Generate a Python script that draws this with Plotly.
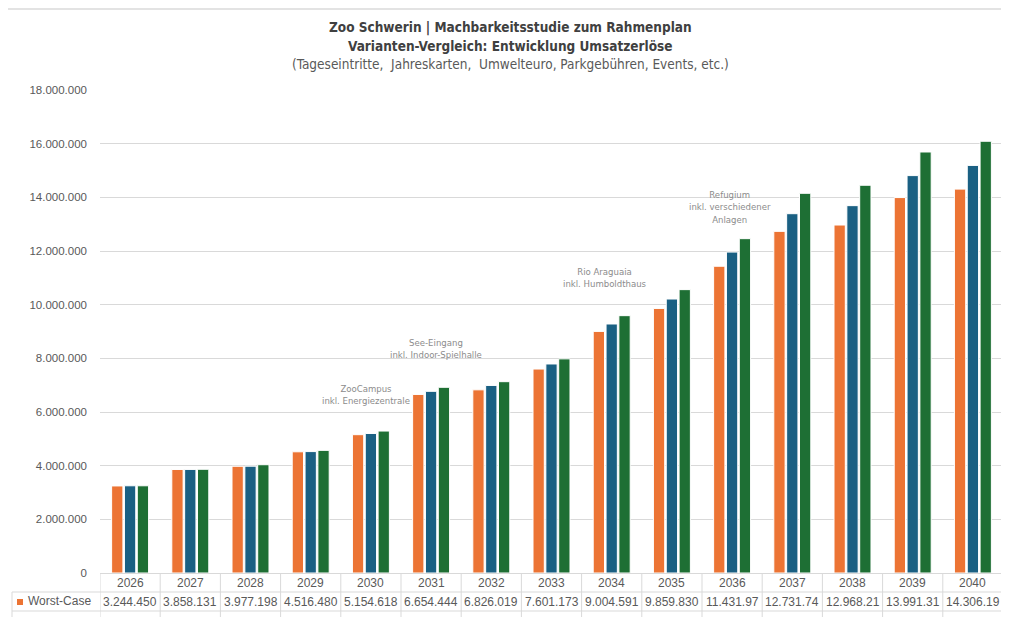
import plotly.graph_objects as go

# ── Data ─────────────────────────────────────────────────────────────────────

years = [str(y) for y in range(2026, 2041)]

worst_case = [3244450, 3858131, 3977198, 4516480, 5154618, 6654444, 6826019,
              7601173, 9004591, 9859830, 11431970, 12731740, 12968210,
              13991310, 14306190]
mid_case = [3250000, 3860000, 3980000, 4525000, 5200000, 6770000, 6990000,
            7790000, 9280000, 10210000, 11960000, 13390000, 13690000,
            14810000, 15190000]
best_case = [3250000, 3865000, 4035000, 4570000, 5290000, 6920000, 7130000,
             7980000, 9590000, 10560000, 12460000, 14150000, 14450000,
             15690000, 16090000]

milestones = {
    "2030": "ZooCampus<br>inkl. Energiezentrale",
    "2031": "See-Eingang<br>inkl. Indoor-Spielhalle",
    "2034": "Rio Araguaia<br>inkl. Humboldthaus",
    "2036": "Refugium<br>inkl. verschiedener<br>Anlagen",
}
milestone_y = {"2030": 6150000, "2031": 7850000, "2034": 10500000, "2036": 12900000}
milestone_dx = {"2030": -5, "2031": 5, "2034": -7, "2036": -2}

# ── Style ────────────────────────────────────────────────────────────────────

ORANGE = "#EC7434"
BLUE = "#1A6083"
GREEN = "#1E6F34"
GRID = "#D9D9D9"
NARROW = "DejaVu Sans Condensed, Liberation Sans Narrow, sans-serif"
SANS = "Liberation Sans, Arial, sans-serif"

# page body adds an 8px offset, so the figure is drawn 8px smaller
W, H = 1001, 609
ML, MR, MT, MB = 92, 6, 82, 44
PH = H - MT - MB


def de_num(v):
    return f"{v:,.0f}".replace(",", ".")


fig = go.Figure()
for name, vals, col in [("Worst-Case", worst_case, ORANGE),
                        ("Mid-Case", mid_case, BLUE),
                        ("Best-Case", best_case, GREEN)]:
    fig.add_trace(go.Bar(
        x=years, y=vals, name=name,
        marker=dict(color=col, line=dict(color="white", width=1)),
        hoverinfo="x+y+name",
    ))

fig.update_layout(
    width=W, height=H,
    paper_bgcolor="white", plot_bgcolor="white",
    margin=dict(l=ML, r=MR, t=MT, b=MB),
    barmode="group", bargap=0.36, bargroupgap=0.12,
    showlegend=False,
    separators=",.",
    font=dict(family=SANS, color="#595959", size=11),
)
fig.update_xaxes(type="category", showticklabels=False, showgrid=False, showline=True,
                 linecolor=GRID, linewidth=1, range=[-0.5, 14.5])
fig.update_yaxes(range=[0, 18000000], dtick=2000000, tickformat=",d",
                 gridcolor=GRID, gridwidth=1, zeroline=False,
                 ticklabelstandoff=12, tickfont=dict(size=11.5, color="#595959"))

# title
title_lines = [
    ("<b>Zoo Schwerin | Machbarkeitsstudie zum Rahmenplan</b>", 28, "#404040"),
    ("<b>Varianten-Vergleich: Entwicklung Umsatzerlöse</b>", 46, "#404040"),
    ("(Tageseintritte,  Jahreskarten,  Umwelteuro, Parkgebühren, Events, etc.)", 64, "#595959"),
]
for txt, ypx, col in title_lines:
    fig.add_annotation(text=txt, xref="paper", yref="paper",
                       x=(510 - 8 - ML) / (W - ML - MR),
                       y=1 + (MT - (ypx - 8)) / PH, showarrow=False,
                       xanchor="center", yanchor="middle",
                       font=dict(family=NARROW, size=13.5, color=col))

# top border line
fig.add_shape(type="line", xref="paper", yref="paper", x0=-0.11, x1=1.01,
              y0=1 + (MT - 1) / PH, y1=1 + (MT - 1) / PH,
              line=dict(color="#E3E3E3", width=2))

# milestone labels
for yr, txt in milestones.items():
    fig.add_annotation(text=txt, x=years.index(yr), y=milestone_y[yr], xref="x", yref="y",
                       showarrow=False, xanchor="center", yanchor="bottom",
                       xshift=milestone_dx[yr],
                       font=dict(family=NARROW, size=9.5, color="#8C8C8C"))

# data table below the plot
for i, yr in enumerate(years):
    fig.add_annotation(text=yr, x=i, xref="x", y=0, yref="paper", yshift=-10,
                       showarrow=False, yanchor="middle",
                       font=dict(family=SANS, size=12, color="#595959"))
    fig.add_annotation(text=de_num(worst_case[i])[:9], x=i, xref="x", y=0,
                       yref="paper", yshift=-29, showarrow=False, yanchor="middle",
                       font=dict(family=SANS, size=12, color="#595959"))
    fig.add_shape(type="line", xref="x", x0=i - 0.5, x1=i - 0.5, yref="paper",
                  ysizemode="pixel", yanchor=0, y0=0, y1=-50,
                  line=dict(color=GRID, width=1))
fig.add_shape(type="line", xref="x", x0=14.5, x1=14.5, yref="paper",
              ysizemode="pixel", yanchor=0, y0=0, y1=-50, line=dict(color=GRID, width=1))
for ypx in (-19, -38):
    fig.add_shape(type="line", xref="paper", xsizemode="pixel", xanchor=0,
                  x0=-88, x1=W - ML - MR, yref="paper", ysizemode="pixel", yanchor=0,
                  y0=ypx, y1=ypx, line=dict(color=GRID, width=1))
fig.add_shape(type="line", xref="paper", xsizemode="pixel", xanchor=0, x0=-88, x1=-88,
              yref="paper", ysizemode="pixel", yanchor=0, y0=-19, y1=-50,
              line=dict(color=GRID, width=1))
fig.add_shape(type="rect", xref="paper", xsizemode="pixel", xanchor=0, x0=-83, x1=-77,
              yref="paper", ysizemode="pixel", yanchor=0, y0=-26, y1=-32,
              fillcolor=ORANGE, line=dict(width=0))
fig.add_annotation(text="Worst-Case", xref="paper", x=0, xshift=-74, xanchor="left",
                   y=0, yref="paper", yshift=-28, yanchor="middle", showarrow=False,
                   font=dict(family=SANS, size=12, color="#595959"))

fig.write_html("out.html")
